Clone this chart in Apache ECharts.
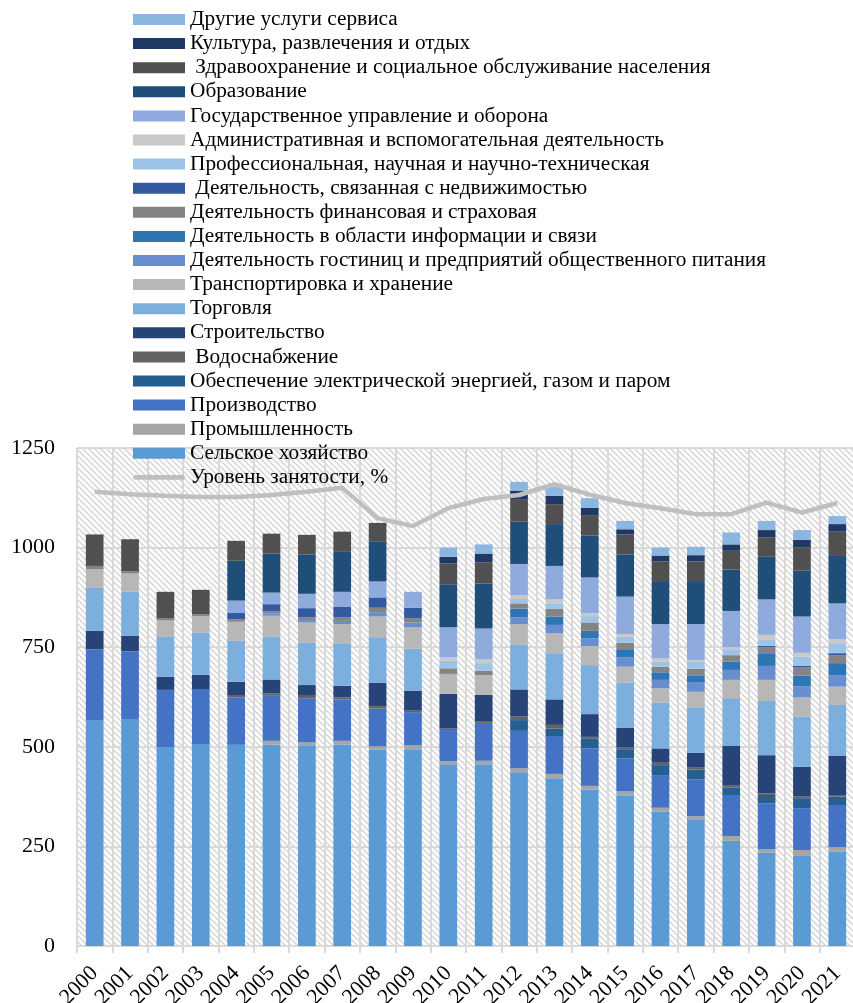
<!DOCTYPE html>
<html>
<head>
<meta charset="utf-8">
<script src="https://cdn.jsdelivr.net/npm/echarts@6/dist/echarts.min.js"></script>
<style>
  html, body { margin: 0; padding: 0; background: #fff; }
  #chart { width: 853px; height: 1003px; }
</style>
</head>
<body>
<div id="chart"></div>
<script>
'use strict';
const years = ["2000", "2001", "2002", "2003", "2004", "2005", "2006", "2007", "2008", "2009", "2010",
    "2011", "2012", "2013", "2014", "2015", "2016", "2017", "2018", "2019", "2020", "2021"];

// stack order: bottom -> top
const agri = [567, 570, 499, 507, 505, 506, 504, 506, 493, 494, 456, 456, 436, 421, 393, 377, 337, 318, 264, 234, 228, 237];
const industry = [0, 0, 0, 0, 0, 9, 7, 9, 8, 10, 8, 9, 10, 11, 9, 12, 10, 8, 12, 9, 13, 11];
const production = [178, 170, 144, 138, 119, 113, 111, 104, 95, 83, 78, 95, 94, 95, 94, 82, 82, 92, 103, 115, 105, 106];
const electricity = [0, 0, 0, 0, 0, 0, 0, 0, 0, 0, 0, 0, 27, 19, 24, 23, 25, 25, 19, 21, 25, 21];
const water = [0, 0, 0, 0, 6, 6, 6, 5, 6, 5, 4, 3, 9, 9, 5, 4, 6, 6, 6, 4, 4, 4];
const construction = [46, 39, 33, 36, 33, 35, 27, 29, 59, 49, 87, 67, 68, 64, 57, 50, 36, 36, 98, 96, 75, 98];
const trade = [108, 110, 100, 105, 103, 107, 106, 105, 114, 105, 0, 0, 113, 116, 123, 113, 115, 114, 120, 136, 126, 128];
const transport = [47, 46, 41, 42, 48, 53, 51, 50, 52, 54, 50, 50, 51, 50, 48, 40, 36, 39, 46, 53, 48, 46];
const hotel = [0, 0, 0, 0, 0, 6, 6, 8, 11, 12, 0, 0, 17, 21, 19, 24, 21, 23, 25, 35, 28, 29];
const info = [0, 0, 0, 0, 0, 0, 0, 0, 0, 0, 0, 0, 22, 21, 19, 18, 19, 17, 21, 30, 27, 30];
const finance = [8, 6, 5, 5, 6, 6, 7, 9, 11, 10, 14, 11, 13, 19, 21, 18, 14, 18, 16, 17, 21, 20];
const realty = [0, 0, 0, 0, 17, 17, 23, 27, 26, 27, 0, 0, 0, 0, 0, 0, 0, 0, 0, 3, 3, 5];
const prof = [0, 0, 0, 0, 0, 0, 0, 0, 0, 0, 19, 19, 11, 14, 16, 15, 13, 17, 15, 15, 23, 23];
const admin = [0, 0, 0, 0, 0, 0, 0, 0, 0, 0, 9, 10, 10, 10, 7, 7, 8, 5, 5, 13, 10, 12];
const gov = [0, 0, 0, 0, 30, 29, 36, 37, 40, 40, 75, 77, 78, 84, 90, 94, 86, 90, 91, 89, 91, 90];
const edu = [0, 0, 0, 0, 100, 98, 99, 102, 101, 0, 108, 113, 106, 105, 105, 106, 108, 108, 104, 107, 115, 119];
const health = [79, 80, 67, 61, 50, 50, 49, 49, 46, 0, 52, 53, 55, 50, 50, 50, 49, 49, 47, 49, 59, 61];
const culture = [0, 0, 0, 0, 0, 0, 0, 0, 0, 0, 17, 22, 23, 21, 20, 13, 15, 16, 16, 18, 18, 19];
const other = [0, 0, 0, 0, 0, 0, 0, 0, 0, 0, 23, 23, 22, 23, 24, 21, 20, 21, 30, 23, 25, 20];

// employment line, read in left-axis units
const employment = [1140, 1134, 1130, 1127, 1127, 1132, 1140, 1150, 1074, 1054, 1099, 1122, 1132, 1159, 1133, 1112, 1099, 1084, 1084, 1113, 1088, 1112];

const stack = [
    ["Сельское хозяйство", agri, "#5B9BD5"],
    ["Промышленность", industry, "#A5A5A5"],
    ["Производство", production, "#4472C4"],
    ["Обеспечение электрической энергией, газом и паром", electricity, "#255E91"],
    [" Водоснабжение", water, "#636363"],
    ["Строительство", construction, "#264478"],
    ["Торговля", trade, "#7CAFDD"],
    ["Транспортировка и хранение", transport, "#B7B7B7"],
    ["Деятельность гостиниц и предприятий общественного питания", hotel, "#698ED0"],
    ["Деятельность в области информации и связи", info, "#2E75B6"],
    ["Деятельность финансовая и страховая", finance, "#848484"],
    [" Деятельность, связанная с недвижимостью", realty, "#335AA1"],
    ["Профессиональная, научная и научно-техническая", prof, "#9DC3E6"],
    ["Административная и вспомогательная деятельность", admin, "#C9C9C9"],
    ["Государственное управление и оборона", gov, "#8FAADC"],
    ["Образование", edu, "#1F4E79"],
    [" Здравоохранение и социальное обслуживание населения", health, "#505050"],
    ["Культура, развлечения и отдых", culture, "#203864"],
    ["Другие услуги сервиса", other, "#8AB6E0"]
];
const lineName = "Уровень занятости, %";

// hatched plot background
const tile = document.createElement("canvas");
tile.width = tile.height = 6;
(ctx => {
    ctx.fillStyle = "#fff";
    ctx.fillRect(0, 0, 6, 6);
    ctx.strokeStyle = "#d4d4d4";
    ctx.lineWidth = 1.4;
    ctx.beginPath();
    ctx.moveTo(-1, -1); ctx.lineTo(7, 7);
    ctx.moveTo(-1, 5); ctx.lineTo(1, 7);
    ctx.moveTo(5, -1); ctx.lineTo(7, 1);
    ctx.stroke();
})(tile.getContext("2d"));

const font = "'Liberation Serif', 'Times New Roman', serif";
const gridColor = "#D9D9D9";

const series = stack.map(([name, data, color]) => {
    return {
        name: name,
        type: "bar",
        stack: "total",
        barWidth: "50%",
        data: data,
        itemStyle: { color: color },
        emphasis: { disabled: true }
    }
});
series.push({
    name: lineName,
    type: "line",
    data: employment,
    symbol: "none",
    z: 5,
    lineStyle: { color: "#BFBFBF", width: 4.5 },
    itemStyle: { color: "#BFBFBF" }
});

const legendData = stack.map(s => s[0]).reverse().map(name => ({ name: name, icon: "rect" }));
legendData.push({ name: lineName, icon: "path://M2,0 L50,0 A2.5,2.5 0 0 1 50,5 L2,5 A2.5,2.5 0 0 1 2,0 Z" });

const myChart = echarts.init(document.getElementById("chart"), null, { renderer: "canvas" });
myChart.setOption({
    animation: false,
    textStyle: { fontFamily: font },
    grid: {
        left: 77,
        top: 448,
        width: 778,
        height: 498,
        outerBoundsMode: "none",
        containLabel: false,
        show: true,
        borderWidth: 0,
        backgroundColor: { image: tile, repeat: "repeat" }
    },
    legend: {
        orient: "vertical",
        left: 128,
        top: 4,
        itemWidth: 52,
        itemHeight: 11,
        itemGap: 3.1,
        selectedMode: false,
        data: legendData,
        textStyle: { fontFamily: font, fontSize: 21.3, color: "#000", lineHeight: 21 }
    },
    xAxis: {
        type: "category",
        data: years,
        axisLine: { lineStyle: { color: gridColor, width: 2 } },
        axisTick: { show: true, length: 7, lineStyle: { color: gridColor, width: 2 } },
        splitLine: { show: true, interval: 0, lineStyle: { color: gridColor, width: 2 } },
        axisLabel: { interval: 0, rotate: 45, fontSize: 22, color: "#000", margin: 24, fontFamily: font }
    },
    yAxis: {
        type: "value",
        min: 0,
        max: 1250,
        interval: 250,
        axisLine: { show: false },
        axisTick: { show: false },
        splitLine: { lineStyle: { color: gridColor, width: 2 } },
        axisLabel: { fontSize: 22, color: "#000", margin: 22, fontFamily: font, formatter: v => String(v) }
    },
    series: series
});
</script>
</body>
</html>
